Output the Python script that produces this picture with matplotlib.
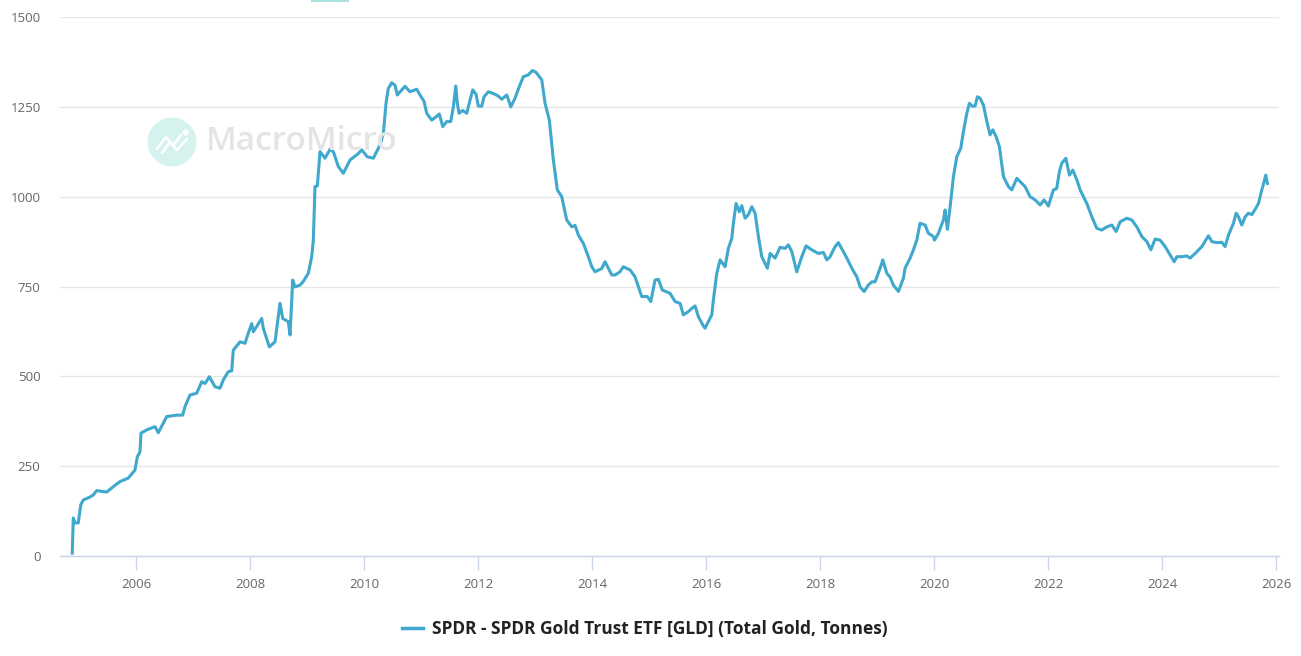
import matplotlib
matplotlib.use("Agg")
import matplotlib.pyplot as plt
import numpy as np
from matplotlib.patches import Circle, Rectangle
from matplotlib.lines import Line2D

# ---- data (decimal year, tonnes) ----
years = [
    2004.882, 2004.900, 2004.930, 2004.988, 2005.030, 2005.075, 2005.193, 2005.251, 2005.311, 2005.486,
    2005.602, 2005.719, 2005.865, 2005.982, 2006.023, 2006.070, 2006.088, 2006.188, 2006.333, 2006.391,
    2006.539, 2006.714, 2006.819, 2006.860, 2006.947, 2007.065, 2007.153, 2007.211, 2007.286, 2007.386,
    2007.474, 2007.532, 2007.619, 2007.679, 2007.707, 2007.825, 2007.912, 2007.970, 2008.030, 2008.058,
    2008.205, 2008.233, 2008.339, 2008.439, 2008.526, 2008.574, 2008.672, 2008.702, 2008.749, 2008.789,
    2008.877, 2008.935, 2009.023, 2009.082, 2009.111, 2009.140, 2009.181, 2009.228, 2009.316, 2009.404,
    2009.462, 2009.549, 2009.637, 2009.754, 2009.900, 2009.960, 2010.058, 2010.163, 2010.281, 2010.339,
    2010.386, 2010.426, 2010.486, 2010.544, 2010.584, 2010.661, 2010.719, 2010.807, 2010.925, 2010.982,
    2011.053, 2011.100, 2011.188, 2011.246, 2011.321, 2011.381, 2011.451, 2011.521, 2011.567, 2011.609,
    2011.637, 2011.667, 2011.732, 2011.802, 2011.860, 2011.907, 2011.965, 2012.005, 2012.065, 2012.105,
    2012.181, 2012.268, 2012.356, 2012.416, 2012.504, 2012.574, 2012.649, 2012.725, 2012.795, 2012.882,
    2012.953, 2013.018, 2013.118, 2013.175, 2013.251, 2013.321, 2013.391, 2013.468, 2013.556, 2013.644,
    2013.702, 2013.760, 2013.847, 2013.935, 2013.995, 2014.053, 2014.170, 2014.228, 2014.346, 2014.404,
    2014.491, 2014.549, 2014.667, 2014.754, 2014.872, 2014.970, 2015.030, 2015.105, 2015.163, 2015.233,
    2015.368, 2015.456, 2015.544, 2015.602, 2015.689, 2015.749, 2015.807, 2015.865, 2015.953, 2015.982,
    2016.040, 2016.100, 2016.128, 2016.188, 2016.246, 2016.333, 2016.391, 2016.451, 2016.479, 2016.526,
    2016.584, 2016.626, 2016.684, 2016.742, 2016.802, 2016.860, 2016.918, 2016.977, 2017.075, 2017.123,
    2017.211, 2017.298, 2017.386, 2017.444, 2017.504, 2017.591, 2017.679, 2017.754, 2017.854, 2017.970,
    2018.058, 2018.118, 2018.175, 2018.263, 2018.321, 2018.409, 2018.469, 2018.556, 2018.644, 2018.702,
    2018.772, 2018.847, 2018.907, 2018.965, 2019.053, 2019.100, 2019.170, 2019.228, 2019.286, 2019.374,
    2019.461, 2019.491, 2019.579, 2019.637, 2019.696, 2019.754, 2019.842, 2019.900, 2019.988, 2020.006,
    2020.075, 2020.163, 2020.193, 2020.233, 2020.281, 2020.339, 2020.398, 2020.468, 2020.514, 2020.574,
    2020.619, 2020.667, 2020.719, 2020.760, 2020.807, 2020.865, 2020.925, 2020.982, 2021.030, 2021.088,
    2021.146, 2021.216, 2021.304, 2021.363, 2021.451, 2021.509, 2021.596, 2021.684, 2021.772, 2021.860,
    2021.930, 2022.005, 2022.093, 2022.151, 2022.198, 2022.240, 2022.311, 2022.374, 2022.433, 2022.504,
    2022.561, 2022.679, 2022.767, 2022.854, 2022.942, 2023.030, 2023.118, 2023.193, 2023.263, 2023.381,
    2023.468, 2023.556, 2023.644, 2023.732, 2023.802, 2023.877, 2023.965, 2024.053, 2024.140, 2024.211,
    2024.258, 2024.346, 2024.433, 2024.491, 2024.579, 2024.696, 2024.812, 2024.872, 2024.960, 2025.047,
    2025.105, 2025.163, 2025.251, 2025.298, 2025.339, 2025.398, 2025.456, 2025.514, 2025.574, 2025.632,
    2025.690, 2025.749, 2025.789, 2025.819, 2025.846,
]
tonnes = [
    8, 106, 92, 92, 142, 156, 164, 170, 182, 178,
    193, 207, 217, 239, 276, 290, 342, 351, 360, 343,
    388, 392, 392, 416, 448, 453, 485, 480, 499, 471,
    467, 490, 513, 515, 573, 596, 592, 620, 647, 624,
    661, 634, 582, 596, 703, 661, 652, 615, 768, 749,
    754, 764, 787, 833, 879, 1028, 1030, 1125, 1107, 1132,
    1125, 1084, 1065, 1102, 1120, 1130, 1111, 1107, 1144, 1176,
    1260, 1301, 1317, 1310, 1283, 1297, 1307, 1292, 1299, 1283,
    1265, 1232, 1213, 1220, 1230, 1195, 1209, 1209, 1250, 1308,
    1260, 1232, 1240, 1232, 1269, 1297, 1285, 1252, 1252, 1278,
    1292, 1287, 1280, 1271, 1283, 1250, 1274, 1307, 1334, 1339,
    1351, 1346, 1325, 1260, 1213, 1102, 1019, 1000, 935, 916,
    920, 893, 870, 833, 805, 791, 800, 819, 782, 782,
    791, 805, 796, 777, 722, 722, 708, 768, 770, 740,
    731, 708, 703, 671, 680, 689, 696, 666, 640, 634,
    652, 671, 712, 787, 824, 805, 856, 884, 926, 981,
    958, 975, 940, 950, 972, 954, 889, 833, 801, 842,
    829, 859, 856, 866, 847, 791, 833, 863, 852, 842,
    845, 824, 833, 861, 872, 847, 829, 801, 777, 749,
    736, 754, 763, 763, 801, 824, 787, 776, 754, 736,
    773, 801, 829, 852, 879, 926, 921, 898, 889, 879,
    898, 935, 963, 909, 972, 1056, 1111, 1135, 1181, 1232,
    1260, 1252, 1252, 1278, 1274, 1255, 1209, 1172, 1186, 1167,
    1139, 1056, 1028, 1019, 1051, 1042, 1028, 1000, 991, 977,
    991, 974, 1019, 1023, 1070, 1093, 1107, 1060, 1074, 1047,
    1019, 981, 944, 912, 907, 916, 921, 903, 930, 940,
    935, 916, 889, 875, 852, 882, 879, 861, 838, 819,
    833, 833, 835, 829, 842, 861, 891, 875, 872, 873,
    861, 893, 926, 954, 944, 921, 944, 954, 950, 965,
    981, 1019, 1042, 1060, 1037,
]
x_ticks = [2006, 2008, 2010, 2012, 2014, 2016, 2018, 2020, 2022, 2024, 2026]
y_ticks = [0, 250, 500, 750, 1000, 1250, 1500]
series_name = "SPDR - SPDR Gold Trust ETF [GLD] (Total Gold, Tonnes)"

LINE_COLOR = "#3fa8cc"
W, H = 1301, 656
fig = plt.figure(figsize=(W / 100, H / 100), dpi=100)

# watermark (icon + text)
ax_wm = fig.add_axes([(172 - 25) / W, 1 - (142 + 25) / H, 50 / W, 50 / H])
ax_wm.set_xlim(0, 1); ax_wm.set_ylim(0, 1); ax_wm.axis("off")
ax_wm.add_patch(Circle((0.5, 0.5), 0.49, facecolor="#d6f2ee", edgecolor="none"))
ax_wm.plot([0.2, 0.38, 0.52, 0.68], [0.36, 0.6, 0.42, 0.64], color="white", lw=1.8,
           solid_capstyle="round")
ax_wm.plot([0.3, 0.46, 0.6, 0.8], [0.28, 0.5, 0.34, 0.56], color="white", lw=1.8,
           solid_capstyle="round")
ax_wm.plot([0.76], [0.7], marker="o", ms=3.5, color="white")
fig.text(206 / W, 1 - 142 / H, "MacroMicro", fontsize=24, family="Open Sans",
         fontweight="semibold", color="#e4e4e4", va="center", ha="left", zorder=0)

# small teal fragment at top
fig.patches.append(Rectangle((311 / W, 1 - 2 / H), 38 / W, 2 / H, transform=fig.transFigure,
                             facecolor="#a8e0dc", edgecolor="none"))

ax = fig.add_axes([60 / W, 1 - 556 / H, (1279 - 60) / W, (556 - 17) / H])
ax.plot(years, tonnes, color=LINE_COLOR, lw=2.2, solid_joinstyle="round", zorder=3)

ax.set_xlim(2004.667, 2026.05)
ax.set_ylim(0, 1500)
ax.patch.set_alpha(0)
for s in ["top", "right", "left"]:
    ax.spines[s].set_visible(False)
ax.spines["bottom"].set_color("#ccd6eb")
ax.spines["bottom"].set_linewidth(1)
ax.set_yticks(y_ticks)
ax.set_yticklabels([str(v) for v in y_ticks])
ax.set_xticks(x_ticks)
ax.set_xticklabels([str(v) for v in x_ticks])
ax.grid(axis="y", color="#e6e6e6", lw=1)
ax.set_axisbelow(True)
ax.tick_params(axis="y", length=0, pad=14, labelsize=9.5, labelcolor="#666666")
ax.tick_params(axis="x", length=10, width=1, color="#ccd6eb", pad=6, labelsize=9.5,
               labelcolor="#666666")
for lab in ax.get_xticklabels() + ax.get_yticklabels():
    lab.set_family("Open Sans")

handle = Line2D([0], [0], color=LINE_COLOR, lw=2.5)
leg = fig.legend([handle], [series_name], loc="center", bbox_to_anchor=(645 / W, 1 - 629 / H),
                 frameon=False, handlelength=1.2, handletextpad=0.5,
                 prop={"family": "Open Sans", "weight": "bold", "size": 12.5})
for t in leg.get_texts():
    t.set_color("#222222")

fig.savefig("out.png", dpi=100)
